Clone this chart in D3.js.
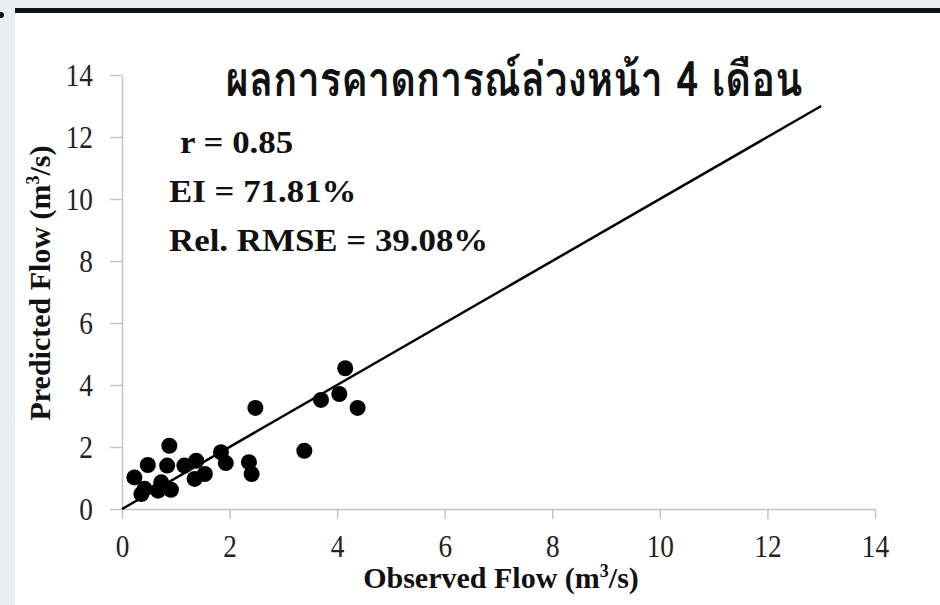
<!DOCTYPE html>
<html>
<head>
<meta charset="utf-8">
<script src="https://cdn.jsdelivr.net/npm/d3@7"></script>
<style>
  body { margin: 0; background: #fff; }
  svg { display: block; }
</style>
</head>
<body>
<div id="chart"></div>
<script>
// observed vs predicted flow
const observed = [0.23, 0.48, 0.88, 0.84, 0.42, 0.36, 0.73, 0.67, 0.91, 1.16, 1.38, 1.35, 1.54,
  1.84, 1.93, 2.36, 2.41, 3.39, 2.48, 3.70, 4.04, 4.15, 4.38];
const predicted = [1.02, 1.42, 2.04, 1.40, 0.65, 0.48, 0.86, 0.59, 0.62, 1.40, 1.56, 0.97, 1.13,
  1.83, 1.48, 1.51, 1.13, 1.88, 3.26, 3.52, 3.71, 4.54, 3.26];
const lineEnds = [0, 13];
const tickValues = [0, 2, 4, 6, 8, 10, 12, 14];
const stats = ["r = 0.85", "EI = 71.81%", "Rel. RMSE = 39.08%"];
const title = "ผลการคาดการณ์ล่วงหน้า 4 เดือน";

const width = 940, height = 605;
const margin = { top: 75, right: 65, bottom: 96, left: 122 };

const svg = d3.select("#chart").append("svg")
  .attr("width", width)
  .attr("height", height);

// slide frame bits
svg.append("rect").attr("x", 0).attr("y", 0).attr("width", width).attr("height", 8).attr("fill", "#e9eef3");
svg.append("rect").attr("x", 0).attr("y", 0).attr("width", 15).attr("height", height).attr("fill", "#e9eef3");
svg.append("rect").attr("x", 15).attr("y", 8).attr("width", width - 15).attr("height", 5).attr("fill", "#111");
svg.append("circle").attr("cx", 1).attr("cy", 15).attr("r", 3).attr("fill", "#111");

const x = d3.scaleLinear().domain([0, 14]).range([margin.left, width - margin.right]);
const y = d3.scaleLinear().domain([0, 14]).range([height - margin.bottom, margin.top]);

const serif = "'Liberation Serif', 'Times New Roman', serif";

const xAxis = svg.append("g")
  .attr("transform", `translate(0,${y(0)})`)
  .call(d3.axisBottom(x).tickValues(tickValues).tickSize(10).tickPadding(16).tickSizeOuter(0));
const yAxis = svg.append("g")
  .attr("transform", `translate(${x(0)},0)`)
  .call(d3.axisLeft(y).tickValues(tickValues).tickSize(12).tickPadding(21).tickSizeOuter(0));

[xAxis, yAxis].forEach(g => {
  g.select(".domain").attr("stroke", "#c4c4c4").attr("stroke-width", 1.5);
  g.selectAll(".tick line").attr("stroke", "#c4c4c4").attr("stroke-width", 1.5);
  g.selectAll(".tick text")
    .attr("fill", "#222")
    .attr("transform", "scale(0.88,1)")
    .style("font-family", serif)
    .style("font-size", "31px");
});
yAxis.selectAll(".tick text").attr("dy", "0.33em");

// 1:1 line
svg.append("line")
  .attr("x1", x(lineEnds[0])).attr("y1", y(lineEnds[0]))
  .attr("x2", x(lineEnds[1])).attr("y2", y(lineEnds[1]))
  .attr("stroke", "#000")
  .attr("stroke-width", 2.5);

svg.append("g")
  .selectAll("circle")
  .data(observed.map((o, i) => ({ o, p: predicted[i] })))
  .join("circle")
  .attr("cx", d => x(d.o))
  .attr("cy", d => y(d.p))
  .attr("r", 8)
  .attr("fill", "#000");

svg.append("text")
  .attr("transform", "translate(514,96) scale(0.83,1)")
  .attr("text-anchor", "middle")
  .style("font-family", "'Loma', 'Garuda', 'Norasi', 'Noto Sans Thai', 'DejaVu Sans', sans-serif")
  .style("font-weight", "bold")
  .style("font-size", "48px")
  .attr("fill", "#111")
  .text(title);

const statY = [153, 202, 251];
const statX = [180, 169, 169];
svg.append("g")
  .selectAll("text")
  .data(stats)
  .join("text")
  .attr("transform", (d, i) => `translate(${statX[i]},${statY[i]}) scale(1.09,1)`)
  .style("font-family", serif)
  .style("font-weight", "bold")
  .style("font-size", "32px")
  .attr("fill", "#111")
  .text(d => d);

const xLabel = svg.append("text")
  .attr("x", 501).attr("y", 588)
  .attr("text-anchor", "middle")
  .style("font-family", serif)
  .style("font-weight", "bold")
  .style("font-size", "30px")
  .attr("fill", "#111");
xLabel.append("tspan").text("Observed Flow (m");
xLabel.append("tspan").attr("dy", -11).style("font-size", "18px").text("3");
xLabel.append("tspan").attr("dy", 11).text("/s)");

const yLabel = svg.append("text")
  .attr("transform", "translate(50,283) rotate(-90)")
  .attr("text-anchor", "middle")
  .style("font-family", serif)
  .style("font-weight", "bold")
  .style("font-size", "30px")
  .attr("fill", "#111");
yLabel.append("tspan").text("Predicted Flow (m");
yLabel.append("tspan").attr("dy", -11).style("font-size", "18px").text("3");
yLabel.append("tspan").attr("dy", 11).text("/s)");
</script>
</body>
</html>
